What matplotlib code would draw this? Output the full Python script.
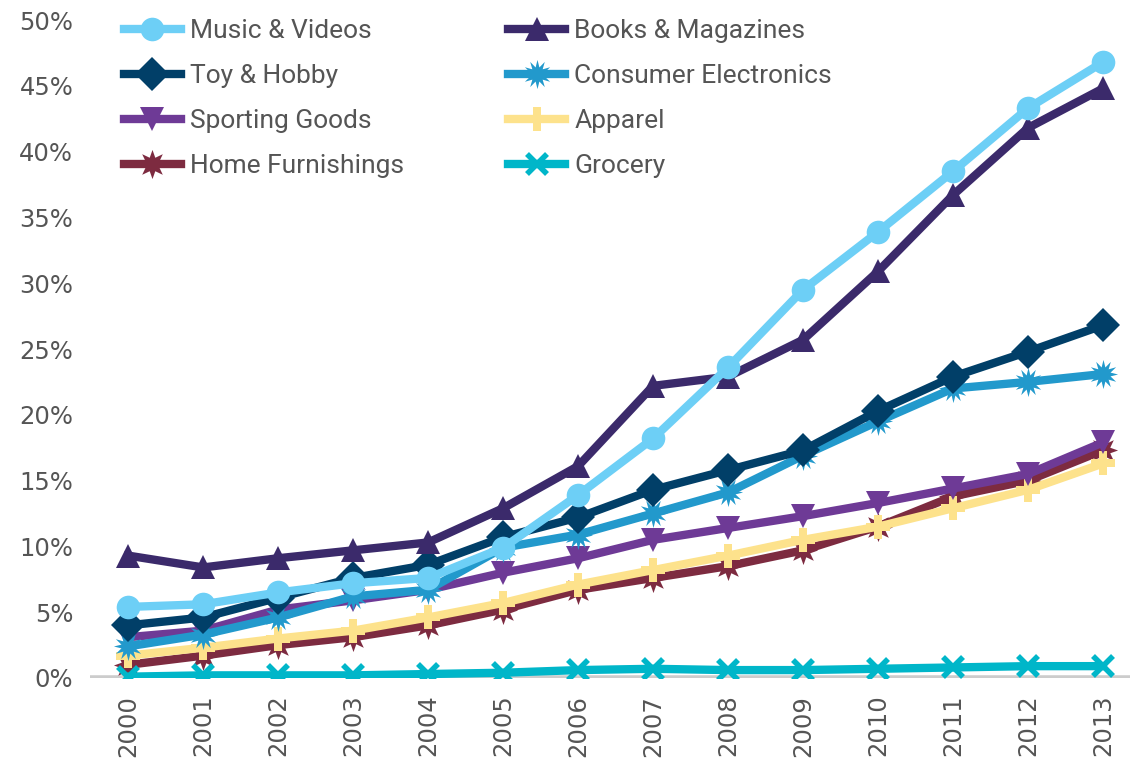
import matplotlib.pyplot as plt
from matplotlib.ticker import FuncFormatter

years = list(range(2000, 2014))

music_videos = [5.4, 5.6, 6.5, 7.2, 7.6, 9.9, 13.9, 18.2, 23.6, 29.5, 33.9, 38.5, 43.3, 46.8]
books_magazines = [9.3, 8.4, 9.1, 9.7, 10.3, 12.9, 16.1, 22.2, 22.9, 25.7, 30.9, 36.7, 41.8, 44.8]
toy_hobby = [4.0, 4.6, 6.1, 7.6, 8.6, 10.7, 12.2, 14.3, 15.8, 17.3, 20.3, 22.9, 24.8, 26.8]
consumer_electronics = [2.4, 3.3, 4.6, 6.2, 6.7, 9.9, 10.9, 12.5, 14.1, 16.9, 19.5, 22.0, 22.5, 23.1]
sporting_goods = [3.1, 3.6, 5.2, 5.9, 6.7, 8.0, 9.1, 10.5, 11.4, 12.3, 13.3, 14.4, 15.5, 17.9]
apparel = [1.7, 2.3, 3.0, 3.6, 4.6, 5.7, 7.1, 8.2, 9.3, 10.5, 11.5, 12.9, 14.3, 16.3]
home_furnishings = [1.0, 1.7, 2.5, 3.1, 4.0, 5.2, 6.7, 7.6, 8.5, 9.7, 11.5, 13.8, 15.0, 17.3]
grocery = [0.1, 0.2, 0.2, 0.2, 0.3, 0.4, 0.6, 0.7, 0.6, 0.6, 0.7, 0.8, 0.9, 0.9]

# label, values, color, marker, legend slot
series = [
    ("Music & Videos", music_videos, "#6dcff6", "o", 0),
    ("Books & Magazines", books_magazines, "#3b2a6b", "^", 4),
    ("Toy & Hobby", toy_hobby, "#013f68", "D", 1),
    ("Consumer Electronics", consumer_electronics, "#2299cc", (12, 1, 0), 5),
    ("Sporting Goods", sporting_goods, "#6e3a96", "v", 2),
    ("Apparel", apparel, "#fde28c", "P", 6),
    ("Home Furnishings", home_furnishings, "#7d2b40", (8, 1, 0), 3),
    ("Grocery", grocery, "#00b6c9", "x", 7),
]
draw_order = ["Home Furnishings", "Apparel", "Sporting Goods", "Consumer Electronics",
              "Toy & Hobby", "Books & Magazines", "Music & Videos", "Grocery"]

fig = plt.figure(figsize=(11.3, 7.7), dpi=100)
ax = fig.add_axes([0.0796, 0.1195, 0.9204, 0.8545])

ax.axhline(0, color="#cccccc", lw=4, zorder=1)

handles = {}
for z, name in enumerate(draw_order):
    label, vals, color, marker, slot = next(s for s in series if s[0] == name)
    if marker == "x":
        kw = dict(markeredgewidth=4, markersize=15)
    elif isinstance(marker, tuple):
        kw = dict(markeredgewidth=0, markersize=21)
    else:
        kw = dict(markeredgewidth=0, markersize=17)
    line, = ax.plot(years, vals, color=color, lw=6, marker=marker,
                    label=label, zorder=2 + z, **kw)
    handles[slot] = line

ax.set_xlim(1999.49, 2013.36)
ax.set_ylim(0, 50)
ax.set_yticks(range(0, 51, 5))
ax.yaxis.set_major_formatter(FuncFormatter(lambda v, p: f"{int(v)}%"))
ax.set_xticks(years)
ax.set_xticklabels([str(y) for y in years], rotation=90)
ax.tick_params(length=0, labelsize=17.5, labelcolor="#555555", pad=12)
for sp in ax.spines.values():
    sp.set_visible(False)

order = [handles[i] for i in range(8)]
leg = ax.legend(order, [h.get_label() for h in order], ncol=2, loc="upper left",
                bbox_to_anchor=(0.02, 1.022), frameon=False, borderpad=0,
                handlelength=2.15, columnspacing=3.95, labelspacing=0.8,
                handletextpad=0.35, prop={"family": "Roboto", "size": 19})
for t in leg.get_texts():
    t.set_color("#555555")

fig.savefig("out.png", dpi=100)
